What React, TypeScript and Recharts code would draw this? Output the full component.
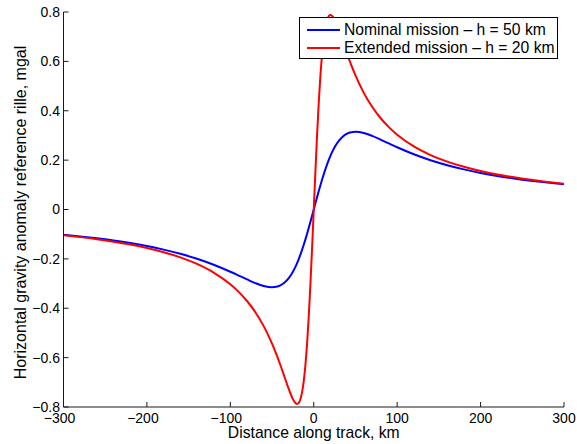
import { LineChart, Line, XAxis, YAxis, Legend, Label } from "recharts"

const distanceKm = [
  -300, -280, -260, -240, -220, -200, -180, -160, -140, -120, -100, -90, -80, -70, -60, -50, -45, -40, -35, -30, -26, -22,
  -20, -18, -16, -14, -12, -10, -8, -6, -4, -2, 0, 2, 4, 6, 8, 10, 12, 14, 16, 18, 20, 22, 26, 30, 35, 40, 45, 50, 60, 70,
  80, 90, 100, 120, 140, 160, 180, 200, 220, 240, 260, 280, 300,
]

const nominal50 = [
  -0.1022, -0.109, -0.1168, -0.1258, -0.1361, -0.1482, -0.1625, -0.1794, -0.1995, -0.2237, -0.252, -0.2675, -0.2831,
  -0.298, -0.3098, -0.315, -0.3133, -0.3073, -0.296, -0.2779, -0.2579, -0.2322, -0.2172, -0.2008, -0.1829, -0.1636,
  -0.143, -0.1212, -0.0983, -0.0745, -0.0501, -0.0252, 0, 0.0252, 0.0501, 0.0745, 0.0983, 0.1212, 0.143, 0.1636,
  0.1829, 0.2008, 0.2172, 0.2322, 0.2579, 0.2779, 0.296, 0.3073, 0.3133, 0.315, 0.3098, 0.298, 0.2831, 0.2675, 0.252,
  0.2237, 0.1995, 0.1794, 0.1625, 0.1482, 0.1361, 0.1258, 0.1168, 0.109, 0.1022,
]

const extended20 = [
  -0.1045, -0.1119, -0.1204, -0.1303, -0.142, -0.1559, -0.1729, -0.1938, -0.2205, -0.2554, -0.3029, -0.3335, -0.3706,
  -0.416, -0.4725, -0.5431, -0.5845, -0.63, -0.6785, -0.7269, -0.7612, -0.7839, -0.7875, -0.7831, -0.7683, -0.7399,
  -0.6949, -0.63, -0.5431, -0.4335, -0.3029, -0.1559, 0, 0.1559, 0.3029, 0.4335, 0.5431, 0.63, 0.6949, 0.7399, 0.7683,
  0.7831, 0.7875, 0.7839, 0.7612, 0.7269, 0.6785, 0.63, 0.5845, 0.5431, 0.4725, 0.416, 0.3706, 0.3335, 0.3029, 0.2554,
  0.2205, 0.1938, 0.1729, 0.1559, 0.142, 0.1303, 0.1204, 0.1119, 0.1045,
]

const xTicks = [-300, -200, -100, 0, 100, 200, 300]
const yTicks = [-0.8, -0.6, -0.4, -0.2, 0, 0.2, 0.4, 0.6, 0.8]

const seriesNames = ["Nominal mission \u2013 h = 50 km", "Extended mission \u2013 h = 20 km"]

const data = distanceKm.map((x, i) => ({ x, nominal: nominal50[i], extended: extended20[i] }))

const font = '"Liberation Sans", Arial, Helvetica, sans-serif'
const axisColor = "#1a1a1a"

const fmt = (v: number) => (v < 0 ? "\u2212" + Math.abs(v) : String(v))

function XTick({ x, y, payload }: any) {
  const v = payload.value as number
  return (
    <text x={x} y={y} dx={v < 0 ? -4 : 0} dy="0.71em" textAnchor="middle" fontSize={14} fill="#000" fontFamily={font}>
      {fmt(v)}
    </text>
  )
}

function LegendBox() {
  const colors = ["#0000ff", "#ff0000"]
  return (
    <div
      style={{
        boxSizing: "border-box",
        width: 259,
        minWidth: 259,
        height: 42,
        border: "1px solid #000",
        background: "#fff",
        padding: "3px 0 0 7px",
        fontFamily: font,
        fontSize: 15.7,
        lineHeight: "18px",
        color: "#000",
      }}
    >
      {seriesNames.map((name, i) => (
        <div key={name} style={{ display: "flex", alignItems: "center", height: 18 }}>
          <svg width={33} height={4} style={{ marginRight: 4, flexShrink: 0 }}>
            <line x1={0} x2={33} y1={2} y2={2} stroke={colors[i]} strokeWidth={2} />
          </svg>
          <span style={{ whiteSpace: "nowrap" }}>{name}</span>
        </div>
      ))}
    </div>
  )
}

export default function App() {
  return (
    <div style={{ position: "absolute", left: 0, top: 0, width: 577, height: 444, background: "#fff" }}>
      <LineChart
        width={577}
        height={444}
        data={data}
        margin={{ top: 12, right: 13, left: 0, bottom: 0 }}
        style={{ fontFamily: font }}
      >
        <XAxis
          dataKey="x"
          type="number"
          domain={[-300, 300]}
          ticks={xTicks}
          height={37}
          stroke={axisColor}
          tickSize={-5}
          tickMargin={11}
          tick={<XTick />}
          interval={0}
        >
          <Label
            content={({ viewBox }: any) => (
              <text
                x={viewBox.x + viewBox.width / 2}
                y={437.5}
                textAnchor="middle"
                fontSize={15.7}
                fill="#000"
                fontFamily={font}
              >
                Distance along track, km
              </text>
            )}
          />
        </XAxis>
        <YAxis
          type="number"
          domain={[-0.8, 0.8]}
          ticks={yTicks}
          width={63.5}
          stroke={axisColor}
          tickSize={-5}
          tickMargin={8.5}
          tickFormatter={fmt}
          tick={{ fontSize: 14, fill: "#000", fontFamily: font }}
          interval={0}
          allowDataOverflow
        >
          <Label
            content={({ viewBox }: any) => {
              const cx = viewBox.x + 20
              const cy = viewBox.y + viewBox.height / 2 + 3
              return (
                <text
                  x={cx}
                  y={cy}
                  transform={`rotate(-90 ${cx} ${cy})`}
                  textAnchor="middle"
                  dominantBaseline="central"
                  fontSize={16}
                  fill="#000"
                  fontFamily={font}
                >
                  Horizontal gravity anomaly reference rille, mgal
                </text>
              )
            }}
          />
        </YAxis>
        <Legend
          layout="horizontal"
          verticalAlign="middle"
          align="center"
          wrapperStyle={{ left: 299, top: 17, width: 259 }}
          content={() => <LegendBox />}
        />
        <Line
          type="monotone"
          dataKey="nominal"
          stroke="#0000ff"
          strokeWidth={2}
          dot={false}
          isAnimationActive={false}
        />
        <Line
          type="monotone"
          dataKey="extended"
          stroke="#ff0000"
          strokeWidth={2}
          dot={false}
          isAnimationActive={false}
        />
      </LineChart>
    </div>
  )
}
